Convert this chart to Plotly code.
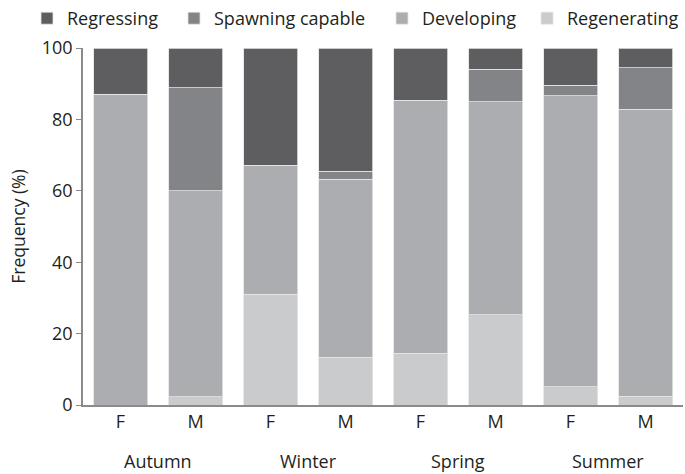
import plotly.graph_objects as go

seasons = ["Autumn", "Winter", "Spring", "Summer"]
sexes = ["F", "M"]
categories = ["Autumn F", "Autumn M", "Winter F", "Winter M",
              "Spring F", "Spring M", "Summer F", "Summer M"]
tick_labels = ["F", "M", "F", "M", "F", "M", "F", "M"]

regenerating = [0.0, 2.3, 31.0, 13.4, 14.5, 25.3, 5.1, 2.5]
developing = [87.0, 57.7, 36.2, 49.9, 70.9, 59.6, 81.5, 80.3]
spawning_capable = [0.0, 28.8, 0.0, 2.2, 0.0, 9.1, 3.0, 11.6]
regressing = [13.0, 11.2, 32.8, 34.5, 14.6, 6.0, 10.4, 5.6]

# bottom-to-top stacking order; legend id controls left-to-right legend order
series = [
    ("Regenerating", regenerating, "#cacbcc", "legend4"),
    ("Developing", developing, "#acadb0", "legend3"),
    ("Spawning capable", spawning_capable, "#838487", "legend2"),
    ("Regressing", regressing, "#5e5e60", "legend"),
]

xs = list(range(len(categories)))
fig = go.Figure()
for name, vals, col, leg in series:
    fig.add_trace(go.Bar(
        x=xs, y=vals, name=name, legend=leg,
        marker=dict(color=col, line=dict(color="#e4e4e4", width=0.8)),
    ))

font_family = "Open Sans, Noto Sans, sans-serif"
W = 685
legend_px = {"legend": 27, "legend2": 174, "legend3": 382, "legend4": 527}
legend_style = dict(orientation="h", xref="container", yref="container",
                    y=1.0, yanchor="top", xanchor="left",
                    font=dict(size=18), itemwidth=30, itemclick=False,
                    bgcolor="rgba(0,0,0,0)")
fig.update_layout(
    width=W, height=474,
    barmode="stack", bargap=0.28,
    plot_bgcolor="white", paper_bgcolor="white",
    margin=dict(l=83, r=2, t=48, b=69, autoexpand=False),
    font=dict(family=font_family, size=18, color="#231f20"),
    showlegend=True,
)
fig.update_layout({k: dict(legend_style, x=v / W) for k, v in legend_px.items()})
fig.update_xaxes(
    range=[-0.5, len(categories) - 0.5],
    tickmode="array", tickvals=xs, ticktext=tick_labels,
    showline=True, linecolor="#8a8a8a", linewidth=1.5,
    ticks="", showgrid=False, zeroline=False,
    tickfont=dict(size=18),
)
fig.update_yaxes(
    range=[0, 100], tickvals=[0, 20, 40, 60, 80, 100],
    showline=True, linecolor="#8a8a8a", linewidth=1.5,
    ticks="outside", ticklen=5, tickcolor="#8a8a8a",
    showgrid=False, zeroline=False,
    title=dict(text="Frequency (%)", font=dict(size=17.5), standoff=12),
    tickfont=dict(size=18),
)
for i, s in enumerate(seasons):
    fig.add_annotation(
        x=i * len(sexes) + (len(sexes) - 1) / 2, xref="x",
        y=-0.156, yref="paper", yanchor="middle",
        text=s, showarrow=False, font=dict(size=18),
    )

fig.write_html("out.html", config={"displayModeBar": False},
               post_script="document.body.style.margin='0';")
